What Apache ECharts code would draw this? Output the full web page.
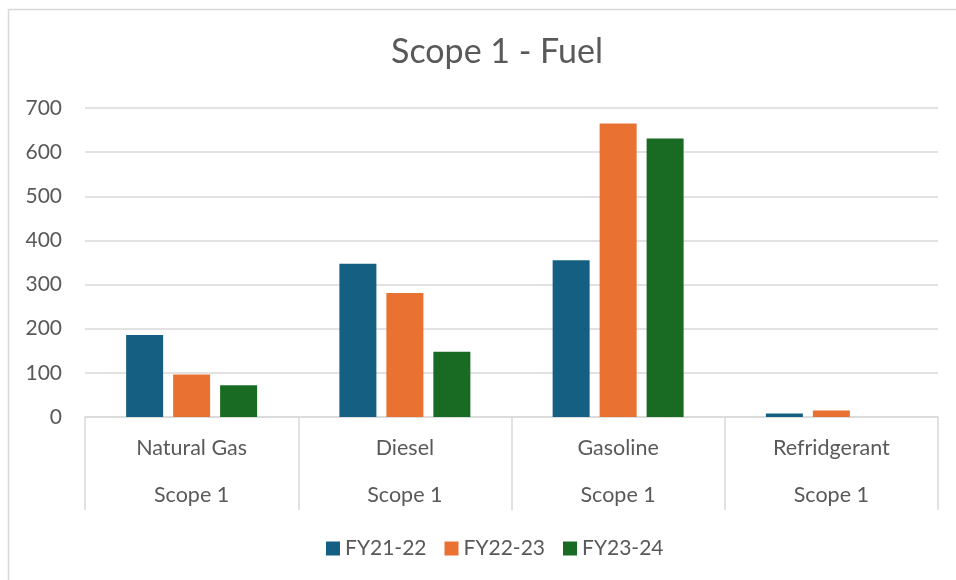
<!DOCTYPE html>
<html>
<head>
<meta charset="utf-8">
<script src="https://cdn.jsdelivr.net/npm/echarts@6/dist/echarts.min.js"></script>
<style>
html,body{margin:0;padding:0;background:#fff;}
#chart{width:956px;height:580px;}
</style>
</head>
<body>
<div id="chart"></div>
<script>
const categories = ["Natural Gas", "Diesel", "Gasoline", "Refridgerant"];
const groupLabels = ["Scope 1", "Scope 1", "Scope 1", "Scope 1"];
const seriesNames = ["FY21-22", "FY22-23", "FY23-24"];
const fy2122 = [186, 347, 355, 8];
const fy2223 = [96, 281, 665, 15];
const fy2324 = [72, 148, 631, 0];
const yTicks = [0, 100, 200, 300, 400, 500, 600, 700];

const colors = ["#156082", "#E97132", "#196B24"];
const font = "Lato";
const txt = "#595959";

const chart = echarts.init(document.getElementById('chart'), null, {renderer: 'canvas'});
const seriesData = [fy2122, fy2223, fy2324];

chart.setOption({
  animation: false,
  color: colors,
  textStyle: {fontFamily: font},
  graphic: [{
    type: 'rect',
    shape: {x: 8.5, y: 9.5, width: 1200, height: 1000},
    style: {fill: 'none', stroke: '#d9d9d9', lineWidth: 1.5},
    silent: true
  }],
  title: {
    text: "Scope 1 - Fuel",
    left: 492,
    textAlign: 'center',
    top: 30,
    textStyle: {fontFamily: font, fontSize: 34, fontWeight: 'normal', color: txt}
  },
  legend: {
    data: seriesNames,
    left: 321,
    top: 533,
    itemWidth: 14,
    itemHeight: 14,
    itemGap: 18,
    icon: 'rect',
    textStyle: {fontFamily: font, fontSize: 21, color: txt}
  },
  grid: {left: 85, right: 18, top: 108, bottom: 163, containLabel: false},
  xAxis: {
    type: 'category',
    data: categories,
    boundaryGap: true,
    axisLine: {show: true, lineStyle: {color: '#d9d9d9', width: 1.5}},
    axisTick: {show: true, length: 93, interval: 0, lineStyle: {color: '#d9d9d9', width: 1.5}},
    axisLabel: {
      interval: 0,
      margin: 8,
      formatter: function (v, i) { return '{a|' + v + '}\n{b|' + groupLabels[i] + '}'; },
      rich: {
        a: {fontFamily: font, fontSize: 21.5, color: txt, lineHeight: 47},
        b: {fontFamily: font, fontSize: 21.5, color: txt, lineHeight: 47}
      }
    }
  },
  yAxis: {
    type: 'value',
    min: yTicks[0],
    max: yTicks[yTicks.length - 1],
    interval: yTicks[1] - yTicks[0],
    axisLine: {show: false},
    axisTick: {show: false},
    axisLabel: {fontFamily: font, fontSize: 21, color: txt, margin: 23},
    splitLine: {lineStyle: {color: '#d9d9d9', width: 1.5}}
  },
  series: seriesNames.map((n, i) => ({
    name: n,
    type: 'bar',
    data: seriesData[i],
    barWidth: 37,
    barGap: '27%',
    itemStyle: {color: colors[i]}
  }))
});
</script>
</body>
</html>
